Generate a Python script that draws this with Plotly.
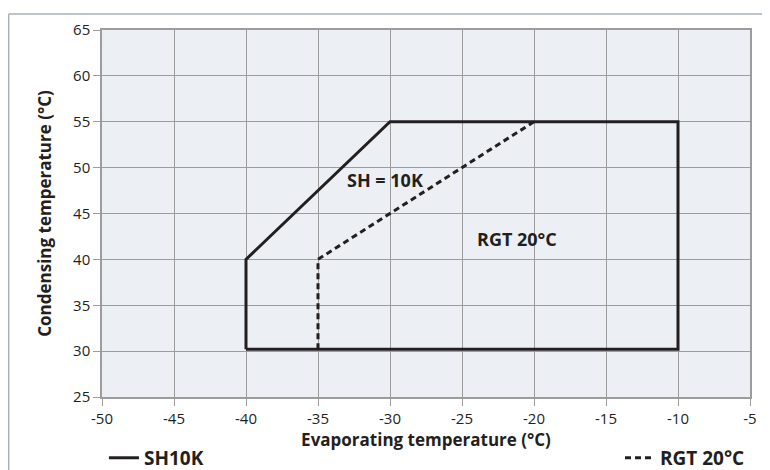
import plotly.graph_objects as go

sh_x = [-40, -40, -30, -10, -10, -40]
sh_y = [30.2, 40, 55, 55, 30.2, 30.2]
rgt_x = [-35, -35, -20]
rgt_y = [30.2, 40, 55]
x_ticks = [-50, -45, -40, -35, -30, -25, -20, -15, -10, -5]
x_tick_labels = ["-50", "-45", "-40", "-35", "-30", "-25", "-20", "-15", "-10", "-5"]
y_ticks = [25, 30, 35, 40, 45, 50, 55, 60, 65]
y_tick_labels = ["25", "30", "35", "40", "45", "50", "55", "60", "65"]

FONT = "Open Sans"
INK = "#231f20"
GRID = "#9c9c9c"

fig = go.Figure()
fig.add_trace(go.Scatter(x=sh_x, y=sh_y, mode="lines", name="<b>SH10K</b>",
                         line=dict(color=INK, width=3), legend="legend"))
fig.add_trace(go.Scatter(x=rgt_x, y=rgt_y, mode="lines", name="<b>RGT 20°C</b>",
                         line=dict(color=INK, width=3, dash="6px,4px"), legend="legend2"))

fig.add_annotation(x=-30.35, y=48.6, text="<b>SH = 10K</b>", showarrow=False,
                   font=dict(family=FONT, size=18, color=INK))
fig.add_annotation(x=-21.2, y=42.2, text="<b>RGT 20°C</b>", showarrow=False,
                   font=dict(family=FONT, size=18, color=INK))

# figure frame lines
fig.add_shape(type="line", xref="paper", yref="paper", x0=-0.144, x1=-0.144,
              y0=-0.3, y1=1.0436, line=dict(color="#a7b1b8", width=1.5))
fig.add_shape(type="line", xref="paper", yref="paper", x0=-0.144, x1=1.05,
              y0=1.0436, y1=1.0436, line=dict(color="#a7b1b8", width=1.5))

fig.update_layout(
    width=762, height=462,
    margin=dict(l=94, r=20, t=22, b=73, autoexpand=False),
    paper_bgcolor="white", plot_bgcolor="#ecf0f4",
    font=dict(family=FONT, size=15, color=INK),
    xaxis=dict(range=[-50, -5], tickvals=x_ticks, ticktext=x_tick_labels,
               showgrid=True, gridcolor=GRID, gridwidth=1, zeroline=False,
               showline=True, linecolor=GRID, linewidth=1.5, mirror=True,
               ticks="outside", ticklen=7, tickcolor=GRID,
               title=dict(text="<b>Evaporating temperature (°C)</b>", font=dict(size=17), standoff=7),
               tickfont=dict(size=15)),
    yaxis=dict(range=[25, 65], tickvals=y_ticks, ticktext=y_tick_labels,
               showgrid=True, gridcolor=GRID, gridwidth=1, zeroline=False,
               showline=True, linecolor=GRID, linewidth=1.5, mirror=True,
               ticks="outside", ticklen=7, tickcolor=GRID,
               title=dict(text="<b>Condensing temperature (°C)</b>", font=dict(size=17), standoff=17),
               tickfont=dict(size=15)),
    legend=dict(x=0.003, y=-0.166, xanchor="left", yanchor="middle", bgcolor="rgba(0,0,0,0)",
                font=dict(size=19, family=FONT, color=INK)),
    legend2=dict(x=1.0, y=-0.166, xanchor="right", yanchor="middle", bgcolor="rgba(0,0,0,0)",
                 font=dict(size=19, family=FONT, color=INK)),
    showlegend=True,
)

fig.write_html("out.html")
